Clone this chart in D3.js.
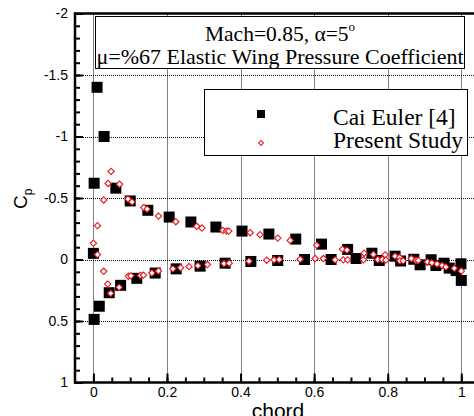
<!DOCTYPE html>
<html>
<head>
<meta charset="utf-8">
<script src="https://cdn.jsdelivr.net/npm/d3@7"></script>
<style>
  body { margin: 0; background: #fff; }
  svg { display: block; }
  .tick text { font-family: "Liberation Sans", Arial, sans-serif; font-size: 14px; fill: #000; }
  .serif { font-family: "Liberation Serif", "Times New Roman", serif; }
</style>
</head>
<body>
<svg id="chart" width="474" height="416"></svg>
<script>
// Cai Euler [4]
const caiChord = [0.01, 0.029, 0.002, 0.061, 0.10, 0.148, 0.206, 0.265, 0.333, 0.404, 0.477, 0.550, 0.62, 0.691, 0.757, 0.82, 0.871, 0.918, 0.953, 0.999,
  0.0, 0.002, 0.016, 0.043, 0.074, 0.118, 0.168, 0.225, 0.29, 0.358, 0.428, 0.501, 0.574, 0.646, 0.714, 0.777, 0.835, 0.888, 0.931, 0.967, 0.986, 1.0]
const caiCp = [-1.40, -1.0, -0.62, -0.58, -0.476, -0.40, -0.345, -0.305, -0.264, -0.231, -0.207, -0.166, -0.125, -0.082, -0.051, -0.027, -0.002, 0.002, 0.03, 0.035,
  -0.05, 0.487, 0.38, 0.27, 0.21, 0.153, 0.11, 0.076, 0.054, 0.03, 0.016, 0.008, 0.0, 0.0, -0.008, 0.008, 0.012, 0.043, 0.049, 0.07, 0.09, 0.17]

// Present Study
const presentChord = [0.0, 0.011, 0.011, 0.028, 0.04, 0.048, 0.071, 0.094, 0.105, 0.137, 0.146, 0.177, 0.224, 0.281, 0.295, 0.352, 0.362, 0.368, 0.426, 0.453,
  0.501, 0.535, 0.607, 0.677, 0.689, 0.736, 0.761, 0.793, 0.82, 0.832, 0.864,
  0.028, 0.039, 0.047, 0.07, 0.095, 0.102, 0.128, 0.136, 0.159, 0.177, 0.216, 0.237, 0.26, 0.284, 0.31, 0.355, 0.369, 0.423, 0.471, 0.491,
  0.505, 0.562, 0.603, 0.625, 0.657, 0.679, 0.691, 0.734, 0.773, 0.785, 0.795, 0.833, 0.842, 0.877, 0.883, 0.908, 0.92, 0.934, 0.948, 0.958, 0.981, 1.0]
const presentCp = [-0.133, -0.275, -0.04, -0.484, -0.618, -0.716, -0.612, -0.492, -0.468, -0.422, -0.41, -0.353, -0.307, -0.27, -0.256, -0.237, -0.231, -0.231, -0.218, -0.202,
  -0.174, -0.155, -0.115, -0.084, -0.076, -0.051, -0.041, -0.038, -0.027, -0.016, -0.008,
  0.096, 0.2, 0.275, 0.226, 0.136, 0.133, 0.13, 0.127, 0.11, 0.093, 0.076, 0.067, 0.058, 0.05, 0.041, 0.033, 0.03, 0.014, 0.006, 0.003,
  0.0, -0.002, -0.008, -0.008, 0.003, 0.003, 0.003, 0.003, 0.0, 0.0, 0.005, 0.011, 0.011, 0.008, 0.008, 0.02, 0.027, 0.036, 0.049, 0.06, 0.072, 0.093]

const xTicks = [0, 0.2, 0.4, 0.6, 0.8, 1]
const yTicks = [-2, -1.5, -1, -0.5, 0, 0.5, 1]
const titleLines = ['Mach=0.85, \u03B1=5', '\u03BC=%67 Elastic Wing Pressure Coefficient']
const seriesNames = ['Cai Euler [4]', 'Present Study']

const svg = d3.select('#chart')
const pLeft = 75, pRight = 479.7, pTop = 13.5, pBottom = 382.5
const red = '#e8141c'

const x = d3.scaleLinear().domain([-0.05, 1.05]).range([pLeft, pRight])
const y = d3.scaleLinear().domain([-2, 1]).range([pTop, pBottom])

// dotted grid
const grid = svg.append('g').attr('stroke', '#000').attr('stroke-width', 1).attr('stroke-dasharray', '1,1')
grid.selectAll('.gx').data(xTicks).enter().append('line')
  .attr('x1', d => Math.round(x(d)) + 0.5).attr('x2', d => Math.round(x(d)) + 0.5)
  .attr('y1', pTop).attr('y2', pBottom)
grid.selectAll('.gy').data(yTicks.slice(1, -1)).enter().append('line')
  .attr('y1', d => Math.round(y(d)) + 0.5).attr('y2', d => Math.round(y(d)) + 0.5)
  .attr('x1', pLeft).attr('x2', pRight)

// title box
svg.append('rect').attr('x', 95.5).attr('y', 16.5).attr('width', 369).attr('height', 52)
  .attr('fill', '#fff').attr('stroke', '#000')
const t1 = svg.append('text').attr('class', 'serif').attr('x', 280).attr('y', 41)
  .attr('text-anchor', 'middle').attr('font-size', 21.5).text(titleLines[0])
t1.append('tspan').attr('font-size', 13).attr('dy', -10).text('o')
svg.append('text').attr('class', 'serif').attr('x', 280).attr('y', 64)
  .attr('text-anchor', 'middle').attr('font-size', 22).text(titleLines[1])

// legend box
svg.append('rect').attr('x', 204.5).attr('y', 89.5).attr('width', 263).attr('height', 66)
  .attr('fill', '#fff').attr('stroke', '#000')
svg.append('rect').attr('x', 257).attr('y', 110).attr('width', 8).attr('height', 8).attr('fill', '#000')
svg.append('path').attr('d', d3.symbol(d3.symbolSquare, 12)())
  .attr('transform', 'translate(261,143) rotate(45)')
  .attr('fill', '#fff').attr('stroke', red).attr('stroke-width', 1)
svg.selectAll('.legtext').data(seriesNames).enter().append('text')
  .attr('class', 'serif').attr('x', 333).attr('y', (d, i) => 125 + i * 23)
  .attr('font-size', 23.5).text(d => d)

// Cai Euler squares
svg.append('g').selectAll('rect').data(caiChord).enter().append('rect')
  .attr('x', d => x(d) - 5.5)
  .attr('y', (d, i) => y(caiCp[i]) - 5.5)
  .attr('width', 11).attr('height', 11).attr('fill', '#000')

// Present study diamonds
svg.append('g').selectAll('path').data(presentChord).enter().append('path')
  .attr('d', d3.symbol(d3.symbolSquare, 20)())
  .attr('transform', (d, i) => `translate(${x(d)},${y(presentCp[i])}) rotate(45)`)
  .attr('fill', '#fff').attr('stroke', red).attr('stroke-width', 1.1)

// axes, ticks pointing inward
const yAxis = svg.append('g').attr('transform', `translate(${pLeft},0)`)
  .call(d3.axisLeft(y).tickValues(yTicks).tickSize(-8).tickPadding(7).tickFormat(d => String(d)))
const yMinor = svg.append('g').attr('transform', `translate(${pLeft},0)`)
  .call(d3.axisLeft(y).tickValues(d3.range(-20, 11).map(d => d / 10)).tickSize(-5).tickFormat(''))
const xAxis = svg.append('g').attr('transform', `translate(0,${pBottom})`)
  .call(d3.axisBottom(x).tickValues(xTicks).tickSize(-9).tickPadding(5).tickFormat(d => String(d)))
const xMinor = svg.append('g').attr('transform', `translate(0,${pBottom})`)
  .call(d3.axisBottom(x).tickValues(d3.range(0, 21).map(d => d / 20)).tickSize(-5).tickFormat(''))
svg.selectAll('.domain').remove()
svg.selectAll('.tick line').attr('stroke', '#000').attr('stroke-width', 2)
xAxis.selectAll('.tick text').attr('dy', '0.71em').attr('y', 5)

// frame
svg.append('line').attr('x1', pLeft).attr('x2', pLeft).attr('y1', pTop - 1).attr('y2', pBottom + 1)
  .attr('stroke', '#000').attr('stroke-width', 2.5)
svg.append('line').attr('x1', pLeft - 1).attr('x2', 474).attr('y1', pBottom).attr('y2', pBottom)
  .attr('stroke', '#000').attr('stroke-width', 2.5)
svg.append('line').attr('x1', pLeft - 1).attr('x2', 474).attr('y1', pTop).attr('y2', pTop)
  .attr('stroke', '#000').attr('stroke-width', 2.5)

// axis titles
const cp = svg.append('text').attr('transform', 'translate(27,209) rotate(-90)')
  .attr('font-family', '"Liberation Sans", Arial, sans-serif').attr('font-size', 19).text('C')
cp.append('tspan').attr('font-size', 12).attr('dy', 5).text('p')
svg.append('text').attr('x', 278).attr('y', 418)
  .attr('text-anchor', 'middle').attr('font-family', '"Liberation Sans", Arial, sans-serif')
  .attr('font-size', 21).text('chord')
</script>
</body>
</html>
